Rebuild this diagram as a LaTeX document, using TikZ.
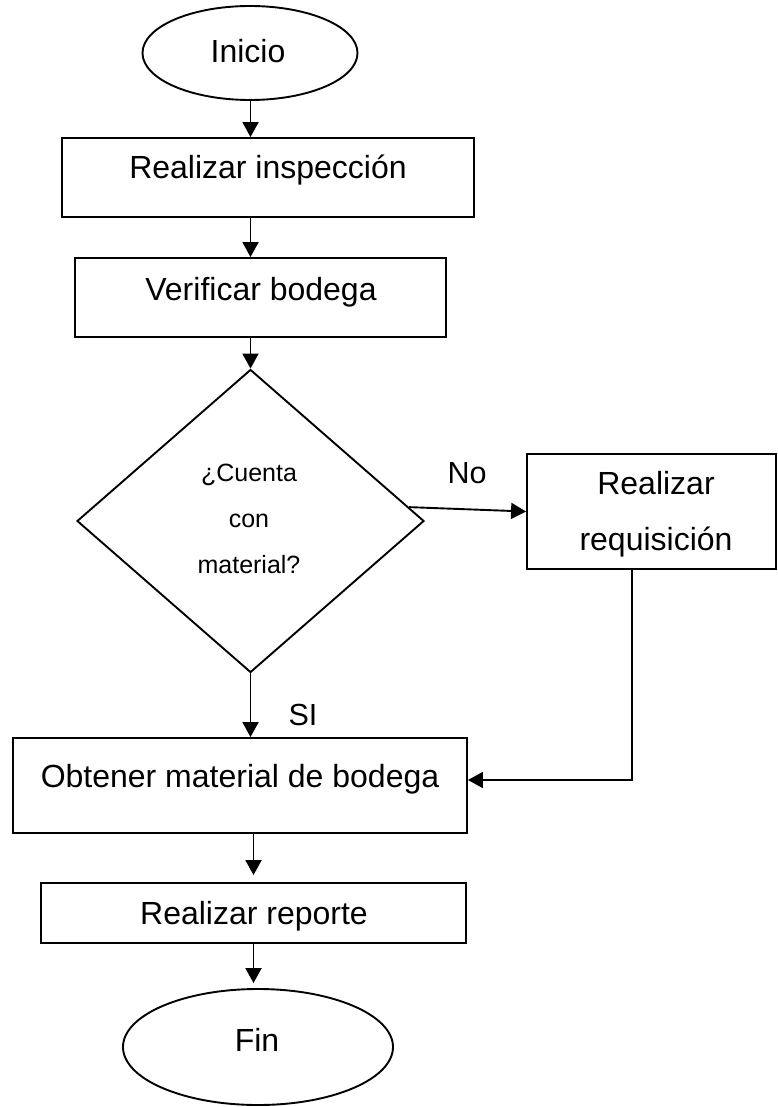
\documentclass[tikz,border=0pt]{standalone}
\usepackage{fontspec}
\setmainfont{Liberation Sans}
\usetikzlibrary{shapes.geometric,arrows.meta}
\begin{document}
\begin{tikzpicture}[x=1pt,y=-1pt,
  shapeline/.style={draw=black,line width=1.9pt,inner sep=0pt},
  procbox/.style={shapeline,rectangle},
  termnode/.style={shapeline,ellipse},
  decnode/.style={shapeline,diamond},
  txt/.style={inner sep=0pt,anchor=base,font=\fontsize{32}{38}\selectfont},
  smalltxt/.style={inner sep=0pt,anchor=base,font=\fontsize{25}{30}\selectfont},
  lbltxt/.style={inner sep=0pt,anchor=base,font=\fontsize{30.5}{36}\selectfont},
  arr/.style={line width=1.9pt,-{Triangle[length=15pt,width=16pt]}}]
\useasboundingbox (0,0) rectangle (777,1107);

% shapes
\node[termnode,minimum width=215pt,minimum height=94pt] (ini) at (250,53) {};
\node[procbox,minimum width=412pt,minimum height=79pt] (insp) at (268,177.5) {};
\node[procbox,minimum width=371pt,minimum height=79pt] (verif) at (260.5,297.5) {};
\node[decnode,minimum width=347pt,minimum height=303pt] (dia) at (250.5,521) {};
\node[procbox,minimum width=249pt,minimum height=115pt] (req) at (651.5,511.5) {};
\node[procbox,minimum width=454pt,minimum height=95pt] (obt) at (240,785.5) {};
\node[procbox,minimum width=425pt,minimum height=60pt] (rep) at (253.5,913) {};
\node[termnode,minimum width=270pt,minimum height=116pt] (fin) at (258,1047) {};

% texts
\node[txt] (tini) at (248,63) {Inicio};
\node[txt] (tinsp) at (268,179) {Realizar inspección};
\node[txt] (tverif) at (261,300) {Verificar bodega};
\node[smalltxt] (tdia1) at (249,481) {¿Cuenta};
\node[smalltxt] (tdia2) at (249,527) {con};
\node[smalltxt] (tdia3) at (249,573) {material?};
\node[txt] (treq1) at (656,494) {Realizar};
\node[txt] (treq2) at (656,550) {requisición};
\node[txt] (tobt) at (240,787) {Obtener material de bodega};
\node[txt] (trep) at (254,924) {Realizar reporte};
\node[txt] (tfin) at (257,1051) {Fin};
\node[lbltxt] (tno) at (467,483) {No};
\node[lbltxt] (tsi) at (303,725) {SI};

% connectors
\coordinate (bend) at (632,780);
\draw[arr] (ini.south -| dia.north) -- (insp.north -| dia.north);
\draw[arr] (insp.south -| dia.north) -- (verif.north -| dia.north);
\draw[arr] (verif.south -| dia.north) -- (dia.north);
\draw[arr] (dia.5) -- (req.west);
\draw[arr] (req.south -| bend) -- (bend) -- (obt.east |- bend);
\draw[arr] (dia.south) -- (dia.south |- obt.north);
\draw[arr,shorten >=7pt] (obt.south -| rep.north) -- (rep.north);
\draw[arr,shorten >=5pt] (rep.south) -- (rep.south |- fin.north);
\end{tikzpicture}
\end{document}
